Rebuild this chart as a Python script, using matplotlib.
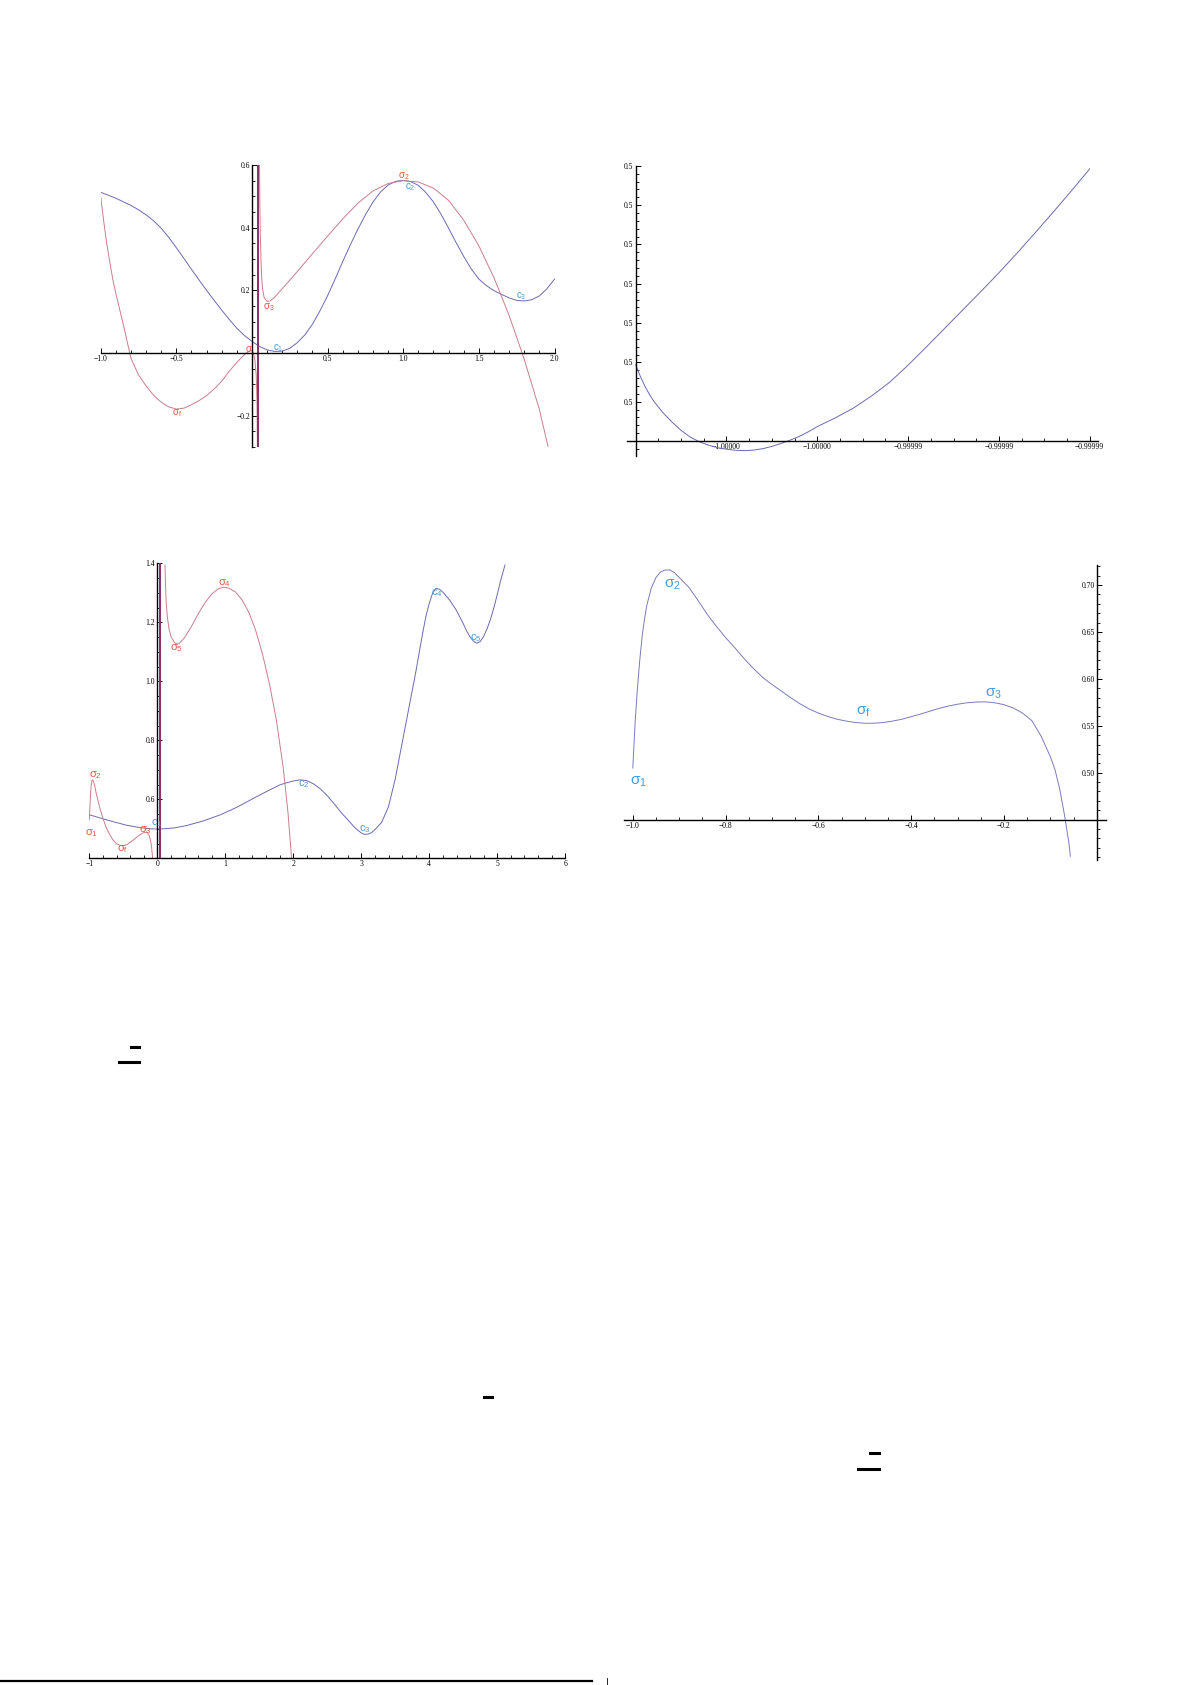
import matplotlib
matplotlib.use("Agg")
import matplotlib.pyplot as plt
from matplotlib.lines import Line2D
from matplotlib.ticker import MultipleLocator, FixedLocator

plt.rcParams['mathtext.fontset'] = 'custom'
plt.rcParams['mathtext.rm'] = 'Liberation Sans'
plt.rcParams['mathtext.it'] = 'Liberation Sans'
plt.rcParams['mathtext.bf'] = 'Liberation Sans'
plt.rcParams['lines.solid_joinstyle'] = 'round'

W, H = 1191, 1685
DPI = 100

# ---------------- Panel 1 data ----------------
p1_c_x = [-1.0, -0.9, -0.8, -0.75, -0.7, -0.65, -0.6, -0.55, -0.5, -0.45, -0.4, -0.35, -0.3, -0.25, -0.2, -0.15, -0.1, -0.05, 0.0, 0.05, 0.1, 0.15, 0.2, 0.25, 0.3, 0.35, 0.4, 0.45, 0.5, 0.55, 0.6, 0.65, 0.7, 0.75, 0.8, 0.85, 0.9, 0.95, 1.0, 1.05, 1.1, 1.15, 1.2, 1.25, 1.3, 1.35, 1.4, 1.45, 1.5, 1.55, 1.6, 1.65, 1.7, 1.75, 1.8, 1.85, 1.9, 1.95, 2.0]
p1_c_y = [0.513, 0.494, 0.471, 0.457, 0.441, 0.422, 0.398, 0.369, 0.336, 0.302, 0.267, 0.233, 0.200, 0.168, 0.137, 0.107, 0.079, 0.056, 0.037, 0.021, 0.010, 0.005, 0.006, 0.015, 0.033, 0.058, 0.092, 0.135, 0.183, 0.236, 0.292, 0.345, 0.395, 0.441, 0.482, 0.514, 0.536, 0.548, 0.551, 0.547, 0.535, 0.512, 0.482, 0.443, 0.398, 0.352, 0.308, 0.268, 0.236, 0.215, 0.199, 0.187, 0.176, 0.168, 0.166, 0.170, 0.182, 0.205, 0.236]

p1_s1_x = [-1.0, -0.98, -0.96, -0.94, -0.92, -0.9, -0.85, -0.8, -0.75, -0.7, -0.65, -0.6, -0.55, -0.5, -0.45, -0.4, -0.35, -0.3, -0.25, -0.2, -0.15, -0.1, -0.05, -0.02, 0.0, 0.01, 0.02, 0.028, 0.033, 0.036]
p1_s1_y = [0.5, 0.42, 0.35, 0.29, 0.235, 0.19, 0.09, -0.017, -0.07, -0.105, -0.135, -0.157, -0.172, -0.179, -0.176, -0.165, -0.152, -0.136, -0.115, -0.09, -0.058, -0.03, -0.005, 0.006, 0.008, 0.0, -0.025, -0.07, -0.15, -0.3]

p1_s2_x = [0.05, 0.052, 0.055, 0.06, 0.065, 0.07, 0.08, 0.1, 0.12, 0.15, 0.2, 0.3, 0.4, 0.5, 0.6, 0.7, 0.8, 0.9, 1.0, 1.1, 1.2, 1.3, 1.4, 1.5, 1.6, 1.7, 1.8, 1.9, 1.957]
p1_s2_y = [0.6, 0.48, 0.38, 0.29, 0.235, 0.205, 0.178, 0.165, 0.166, 0.178, 0.205, 0.26, 0.317, 0.373, 0.428, 0.478, 0.517, 0.541, 0.55, 0.546, 0.526, 0.487, 0.424, 0.342, 0.24, 0.12, -0.02, -0.18, -0.298]

p1_pole_x = 0.042
p1_labels = [
    (r'$\sigma_f$', -0.497, -0.191, 'r'),
    (r'$\sigma$', -0.02, 0.012, 'r'),
    (r'$c_1$', 0.174, 0.016, 'b'),
    (r'$\sigma_3$', 0.108, 0.145, 'r'),
    (r'$\sigma_2$', 1.005, 0.566, 'r'),
    (r'$c_2$', 1.043, 0.530, 'b'),
    (r'$c_3$', 1.78, 0.181, 'b'),
]
p1_xticks = [-1.0, -0.5, 0.5, 1.0, 1.5, 2.0]
p1_xlabels = ['−1.0', '−0.5', '0.5', '1.0', '1.5', '2.0']
p1_yticks = [-0.2, 0.2, 0.4, 0.6]
p1_ylabels = ['−0.2', '0.2', '0.4', '0.6']

# ---------------- Panel 2 data ----------------
p2_x = [0.0, 0.05, 0.1, 0.15, 0.2, 0.3, 0.4, 0.5, 0.6, 0.7, 0.8, 0.9, 1.0, 1.1, 1.2, 1.3, 1.4, 1.5, 1.6, 1.7, 1.8, 1.9, 2.0, 2.2, 2.4, 2.6, 2.8, 3.0, 3.2, 3.4, 3.6, 3.8, 4.0, 4.2, 4.4, 4.6, 4.8, 5.0]
p2_y = [1.94, 1.65, 1.40, 1.19, 1.01, 0.72, 0.48, 0.27, 0.10, -0.02, -0.105, -0.17, -0.21, -0.237, -0.246, -0.232, -0.196, -0.138, -0.064, 0.02, 0.115, 0.232, 0.365, 0.59, 0.84, 1.15, 1.50, 1.93, 2.39, 2.86, 3.33, 3.80, 4.28, 4.78, 5.30, 5.83, 6.37, 6.924]
p2_xticks = [1, 2, 3, 4, 5]
p2_xlabels = ['−1.00000', '−1.00000', '−0.99999', '−0.99999', '−0.99999']
p2_yticks = [1, 2, 3, 4, 5, 6, 7]
p2_ylabels = ['0.5'] * 7

# ---------------- Panel 3 data ----------------
p3_c_x = [-0.99, -0.8, -0.647, -0.45, -0.255, -0.1, 0.039, 0.25, 0.431, 0.68, 0.922, 1.17, 1.412, 1.62, 1.804, 1.9, 2.0, 2.1, 2.2, 2.3, 2.4, 2.5, 2.6, 2.7, 2.8, 2.9, 2.95, 3.0, 3.05, 3.1, 3.15, 3.2, 3.3, 3.4, 3.5, 3.6, 3.7, 3.8, 3.9, 3.95, 4.0, 4.05, 4.1, 4.15, 4.2, 4.3, 4.4, 4.5, 4.55, 4.6, 4.65, 4.7, 4.75, 4.8, 4.85, 4.9, 4.95, 5.0, 5.05, 5.113]
p3_c_y = [0.547, 0.534, 0.524, 0.512, 0.504, 0.5, 0.499, 0.503, 0.511, 0.527, 0.547, 0.573, 0.603, 0.628, 0.649, 0.656, 0.662, 0.666, 0.663, 0.652, 0.635, 0.612, 0.585, 0.556, 0.531, 0.505, 0.495, 0.486, 0.481, 0.482, 0.487, 0.497, 0.522, 0.575, 0.67, 0.79, 0.91, 1.03, 1.16, 1.22, 1.265, 1.3, 1.315, 1.312, 1.302, 1.275, 1.24, 1.195, 1.17, 1.15, 1.136, 1.129, 1.135, 1.153, 1.178, 1.21, 1.25, 1.295, 1.343, 1.394]

p3_s1_x = [-1.0, -0.99, -0.98, -0.97, -0.96, -0.951, -0.94, -0.92, -0.9, -0.87, -0.843, -0.8, -0.75, -0.696, -0.65, -0.6, -0.55, -0.5, -0.45, -0.4, -0.353, -0.3, -0.26, -0.22, -0.181, -0.16, -0.14, -0.12, -0.108, -0.095, -0.085, -0.069]
p3_s1_y = [0.53, 0.58, 0.625, 0.652, 0.664, 0.666, 0.662, 0.645, 0.622, 0.593, 0.569, 0.536, 0.503, 0.479, 0.462, 0.449, 0.444, 0.443, 0.446, 0.454, 0.462, 0.472, 0.479, 0.485, 0.488, 0.488, 0.485, 0.477, 0.468, 0.455, 0.44, 0.4]

p3_s2_x = [0.113, 0.12, 0.13, 0.147, 0.17, 0.2, 0.25, 0.284, 0.32, 0.4, 0.5, 0.6, 0.7, 0.8, 0.9, 0.98, 1.05, 1.15, 1.25, 1.35, 1.45, 1.55, 1.65, 1.75, 1.85, 1.92, 1.975]
p3_s2_y = [1.394, 1.33, 1.27, 1.22, 1.18, 1.152, 1.132, 1.126, 1.128, 1.148, 1.185, 1.228, 1.266, 1.296, 1.314, 1.319, 1.316, 1.303, 1.275, 1.232, 1.17, 1.09, 0.99, 0.87, 0.71, 0.56, 0.4]

p3_pole_x = 0.044
p3_labels = [
    (r'$\sigma_2$', -0.917, 0.682, 'r'),
    (r'$\sigma_1$', -0.966, 0.487, 'r'),
    (r'$\sigma_f$', -0.51, 0.432, 'r'),
    (r'$\sigma_3$', -0.181, 0.496, 'r'),
    (r'$c_1$', -0.01, 0.519, 'b'),
    (r'$\sigma_5$', 0.284, 1.114, 'r'),
    (r'$\sigma_4$', 0.985, 1.334, 'r'),
    (r'$c_2$', 2.147, 0.651, 'b'),
    (r'$c_3$', 3.054, 0.499, 'b'),
    (r'$c_4$', 4.118, 1.298, 'b'),
    (r'$c_5$', 4.68, 1.148, 'b'),
]
p3_xticks = [-1, 0, 1, 2, 3, 4, 5, 6]
p3_xlabels = ['−1', '0', '1', '2', '3', '4', '5', '6']
p3_yticks = [0.6, 0.8, 1.0, 1.2, 1.4]
p3_ylabels = ['0.6', '0.8', '1.0', '1.2', '1.4']

# ---------------- Panel 4 data ----------------
p4_x = [-1.0, -0.995, -0.99, -0.985, -0.98, -0.975, -0.97, -0.96, -0.95, -0.94, -0.93, -0.92, -0.91, -0.9, -0.88, -0.86, -0.84, -0.82, -0.8, -0.78, -0.76, -0.74, -0.72, -0.7, -0.68, -0.66, -0.64, -0.62, -0.6, -0.58, -0.56, -0.54, -0.52, -0.5, -0.48, -0.46, -0.44, -0.42, -0.4, -0.38, -0.36, -0.34, -0.32, -0.3, -0.28, -0.26, -0.24, -0.22, -0.2, -0.18, -0.16, -0.14, -0.12, -0.1, -0.09, -0.08, -0.07, -0.06, -0.057]
p4_y = [0.505, 0.554, 0.59, 0.62, 0.645, 0.663, 0.678, 0.697, 0.708, 0.714, 0.716, 0.716, 0.713, 0.708, 0.698, 0.684, 0.669, 0.656, 0.644, 0.633, 0.6215, 0.611, 0.6015, 0.594, 0.587, 0.580, 0.5735, 0.568, 0.5635, 0.560, 0.557, 0.555, 0.5535, 0.5527, 0.5527, 0.5535, 0.555, 0.557, 0.5597, 0.5625, 0.5655, 0.5685, 0.571, 0.573, 0.5745, 0.5753, 0.5755, 0.5745, 0.5725, 0.569, 0.5635, 0.5555, 0.539, 0.517, 0.503, 0.483, 0.456, 0.425, 0.411]
p4_labels = [
    (r'$\sigma_1$', -0.988, 0.491),
    (r'$\sigma_2$', -0.914, 0.701),
    (r'$\sigma_f$', -0.504, 0.565),
    (r'$\sigma_3$', -0.223, 0.584),
]
p4_xticks = [-1.0, -0.8, -0.6, -0.4, -0.2]
p4_xlabels = ['−1.0', '−0.8', '−0.6', '−0.4', '−0.2']
p4_yticks = [0.50, 0.55, 0.60, 0.65, 0.70]
p4_ylabels = ['0.50', '0.55', '0.60', '0.65', '0.70']

# ---------------- styling ----------------
BLUE_LINE = '#6a6ab4'
RED_LINE = '#cc7c8c'
POLE = '#8c2c6c'
RED_TXT = '#e8573f'
BLUE_TXT = '#3f9ee2'
TICK_FONT = dict(family=['Liberation Serif', 'DejaVu Serif'], size=5.5)

fig = plt.figure(figsize=(W / DPI, H / DPI), dpi=DPI)


def rect(left, right, top, bottom):
    return [left / W, 1 - bottom / H, (right - left) / W, (bottom - top) / H]


def style_axes(ax, x0, y0, xt, xl, yt, yl, xminor, yminor):
    for s in ['top', 'right']:
        ax.spines[s].set_visible(False)
    ax.spines['left'].set_position(('data', x0))
    ax.spines['bottom'].set_position(('data', y0))
    for s in ['left', 'bottom']:
        ax.spines[s].set_linewidth(1.0)
        ax.spines[s].set_color('black')
    ax.xaxis.set_major_locator(FixedLocator(xt))
    ax.yaxis.set_major_locator(FixedLocator(yt))
    ax.set_xticklabels(xl, **TICK_FONT)
    ax.set_yticklabels(yl, **TICK_FONT)
    ax.xaxis.set_minor_locator(MultipleLocator(xminor))
    ax.yaxis.set_minor_locator(MultipleLocator(yminor))
    ax.tick_params(which='major', direction='in', length=3.5, width=0.7, pad=1.5)
    ax.tick_params(which='minor', direction='in', length=2.0, width=0.6)
    ax.patch.set_visible(False)


# Panel 1
ax1 = fig.add_axes(rect(100.7, 554.5, 165, 447))
ax1.plot(p1_c_x, p1_c_y, color=BLUE_LINE, lw=0.7)
ax1.plot(p1_s1_x, p1_s1_y, color=RED_LINE, lw=0.7)
ax1.plot(p1_s2_x, p1_s2_y, color=RED_LINE, lw=0.7)
ax1.axvline(p1_pole_x, color=POLE, lw=1.4)
ax1.set_xlim(-1, 2)
ax1.set_ylim(-0.3, 0.6)
style_axes(ax1, 0, 0, p1_xticks, p1_xlabels, p1_yticks, p1_ylabels, 0.1, 0.05)
for t, x, y, c in p1_labels:
    ax1.text(x, y, t, color=RED_TXT if c == 'r' else BLUE_TXT, fontsize=7,
             ha='center', va='center')

# Panel 2
ax2 = fig.add_axes(rect(626.6, 1097.9, 165.9, 455.9))
ax2.plot(p2_x, p2_y, color=BLUE_LINE, lw=0.7)
ax2.set_xlim(-0.1, 5.09)
ax2.set_ylim(-0.38, 7.0)
style_axes(ax2, 0, 0, p2_xticks, p2_xlabels, p2_yticks, p2_ylabels, 0.25, 0.2)

# Panel 3
ax3 = fig.add_axes(rect(89.3, 565.3, 563.3, 858.3))
ax3.plot(p3_c_x, p3_c_y, color=BLUE_LINE, lw=0.7)
ax3.plot(p3_s1_x, p3_s1_y, color=RED_LINE, lw=0.7)
ax3.plot(p3_s2_x, p3_s2_y, color=RED_LINE, lw=0.7)
ax3.axvline(p3_pole_x, color=POLE, lw=1.4)
ax3.set_xlim(-1, 6)
ax3.set_ylim(0.4, 1.4)
style_axes(ax3, 0, 0.4, p3_xticks, p3_xlabels, p3_yticks, p3_ylabels, 0.2, 0.05)
for t, x, y, c in p3_labels:
    ax3.text(x, y, t, color=RED_TXT if c == 'r' else BLUE_TXT, fontsize=8,
             ha='center', va='center')

# Panel 4
ax4 = fig.add_axes(rect(624, 1105.6, 565, 860))
ax4.plot(p4_x, p4_y, color='#7a7abd', lw=0.7)
ax4.set_xlim(-1.019, 0.019)
ax4.set_ylim(0.407, 0.7213)
style_axes(ax4, 0, 0.45, p4_xticks, p4_xlabels, p4_yticks, p4_ylabels, 0.05, 0.01)
for t, x, y in p4_labels:
    ax4.text(x, y, t, color=BLUE_TXT, fontsize=11, ha='center', va='center')

# Stray page marks (fraction bars / footnote rule)
marks = [
    (119.3, 139.0, 1061.7, 2.2),
    (131.0, 139.0, 1046.7, 2.2),
    (484.0, 492.0, 1396.7, 2.2),
    (870.0, 879.0, 1452.7, 2.2),
    (858.0, 879.0, 1469.0, 2.2),
    (0.0, 592.0, 1681.0, 1.6),
]
for x0, x1, y, lw in marks:
    fig.add_artist(Line2D([x0 / W, x1 / W], [1 - y / H, 1 - y / H],
                          transform=fig.transFigure, color='black', lw=lw))
fig.add_artist(Line2D([607 / W, 607 / W], [1 - 1678 / H, 0.0],
                      transform=fig.transFigure, color='black', lw=0.6))

fig.savefig('out.png', dpi=DPI)
